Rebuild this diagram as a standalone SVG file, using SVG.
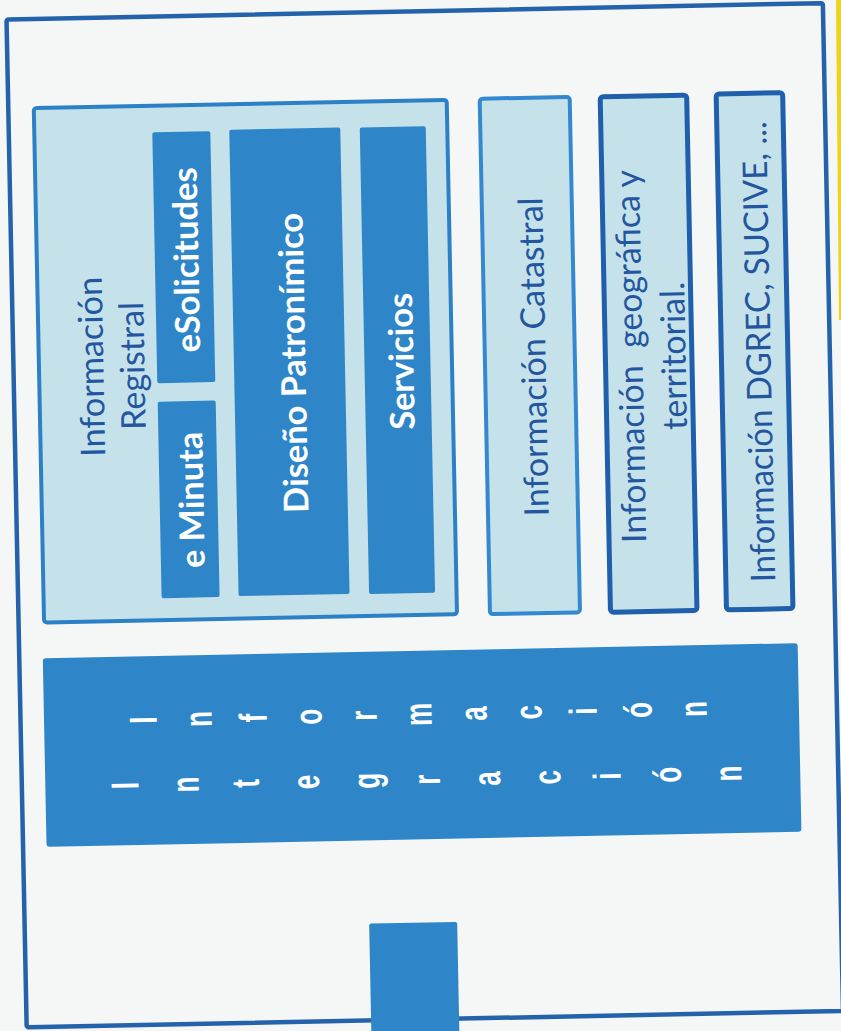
<svg xmlns="http://www.w3.org/2000/svg" width="841" height="1031" viewBox="0 0 841 1031">
<style>
.lbl{font-family:Lato,"Open Sans",sans-serif;font-size:34px;fill:#24569f;text-anchor:middle;dominant-baseline:central}
.wlbl{font-family:Lato,"Open Sans",sans-serif;font-size:34px;font-weight:700;fill:#ffffff;text-anchor:middle;dominant-baseline:central}
.ltr{font-family:"Liberation Sans",Arial,sans-serif;font-size:26px;font-weight:700;fill:#ffffff;text-anchor:middle}
.light{fill:#c5e2ea}
.dark{fill:#2e86c8}
</style>
<rect x="0" y="0" width="841" height="1031" fill="#f5f6f6"/>
<polygon points="836,0 841,0 841,320 839,320" fill="#efd21e"/>
<g transform="rotate(-1.146 420 515)">
  <rect id="frame" x="16.5" y="11.3" width="816.5" height="1008" rx="2" fill="none" stroke="#2463ac" stroke-width="4.5"/>

  <g id="registral">
    <rect x="42" y="100.5" width="413" height="514.5" rx="3" class="light" stroke="#2b80c6" stroke-width="4"/>
    <text class="lbl" transform="translate(93,360.4) rotate(-90)" textLength="180" lengthAdjust="spacingAndGlyphs">Información</text>
    <text class="lbl" transform="translate(134,360.2) rotate(-90)" textLength="128" lengthAdjust="spacingAndGlyphs">Registral</text>
  </g>
  <g id="esolicitudes">
    <rect x="160" y="127" width="58" height="251" rx="2" class="dark"/>
    <text class="wlbl" transform="translate(190,255.3) rotate(-90)" textLength="185" lengthAdjust="spacingAndGlyphs">eSolicitudes</text>
  </g>
  <g id="eminuta">
    <rect x="160" y="396.5" width="58" height="196.5" rx="2" class="dark"/>
    <text class="wlbl" transform="translate(190.3,495.4) rotate(-90)" textLength="136" lengthAdjust="spacingAndGlyphs">e Minuta</text>
  </g>
  <g id="diseno">
    <rect x="237" y="126" width="111" height="466.5" rx="2" class="dark"/>
    <text class="wlbl" transform="translate(295,360.4) rotate(-90)" textLength="300" lengthAdjust="spacingAndGlyphs">Diseño Patronímico</text>
  </g>
  <g id="servicios">
    <rect x="367.5" y="126.5" width="66" height="466.5" rx="2" class="dark"/>
    <text class="wlbl" transform="translate(403,361) rotate(-90)" textLength="137" lengthAdjust="spacingAndGlyphs">Servicios</text>
  </g>
  <g id="catastral">
    <rect x="488" y="100" width="90" height="515.5" rx="3" class="light" stroke="#3388cf" stroke-width="4"/>
    <text class="lbl" transform="translate(535.2,359.2) rotate(-90)" textLength="319" lengthAdjust="spacingAndGlyphs">Información Catastral</text>
  </g>
  <g id="geografica">
    <rect x="608.5" y="100.5" width="86.5" height="515.5" rx="3" class="light" stroke="#1f5fab" stroke-width="5"/>
    <text class="lbl" xml:space="preserve" transform="translate(632.2,360.7) rotate(-90)" textLength="373" lengthAdjust="spacingAndGlyphs">Información  geográfica y</text>
    <text class="lbl" transform="translate(675.2,361) rotate(-90)" textLength="148" lengthAdjust="spacingAndGlyphs">territorial.</text>
  </g>
  <g id="dgrec">
    <rect x="724.5" y="100" width="66.5" height="516" rx="3" class="light" stroke="#1f5fab" stroke-width="5"/>
    <text class="lbl" transform="translate(760.3,358.7) rotate(-90)" textLength="461" lengthAdjust="spacingAndGlyphs">Información DGREC, SUCIVE, ...</text>
  </g>
  <g id="integracion">
    <rect x="40" y="650.7" width="755" height="188.6" rx="3" class="dark"/>
    <g>
      <text class="ltr" transform="translate(152.6,714.5) rotate(-90) scale(1,1.5)">I</text>
      <text class="ltr" transform="translate(207.6,714.5) rotate(-90) scale(1,1.5)">n</text>
      <text class="ltr" transform="translate(262.6,714.5) rotate(-90) scale(1,1.5)">f</text>
      <text class="ltr" transform="translate(317.6,714.5) rotate(-90) scale(1,1.5)">o</text>
      <text class="ltr" transform="translate(372.6,714.5) rotate(-90) scale(1,1.5)">r</text>
      <text class="ltr" transform="translate(427.6,714.5) rotate(-90) scale(1,1.5)">m</text>
      <text class="ltr" transform="translate(482.6,714.5) rotate(-90) scale(1,1.5)">a</text>
      <text class="ltr" transform="translate(537.6,714.5) rotate(-90) scale(1,1.5)">c</text>
      <text class="ltr" transform="translate(592.6,714.5) rotate(-90) scale(1,1.5)">i</text>
      <text class="ltr" transform="translate(647.6,714.5) rotate(-90) scale(1,1.5)">ó</text>
      <text class="ltr" transform="translate(702.6,714.5) rotate(-90) scale(1,1.5)">n</text>
    </g>
    <g>
      <text class="ltr" transform="translate(133,779.8) rotate(-90) scale(1,1.5)">I</text>
      <text class="ltr" transform="translate(193.3,779.8) rotate(-90) scale(1,1.5)">n</text>
      <text class="ltr" transform="translate(253.6,779.8) rotate(-90) scale(1,1.5)">t</text>
      <text class="ltr" transform="translate(313.9,779.8) rotate(-90) scale(1,1.5)">e</text>
      <text class="ltr" transform="translate(374.2,779.8) rotate(-90) scale(1,1.5)">g</text>
      <text class="ltr" transform="translate(434.5,779.8) rotate(-90) scale(1,1.5)">r</text>
      <text class="ltr" transform="translate(494.8,779.8) rotate(-90) scale(1,1.5)">a</text>
      <text class="ltr" transform="translate(555.1,779.8) rotate(-90) scale(1,1.5)">c</text>
      <text class="ltr" transform="translate(615.4,779.8) rotate(-90) scale(1,1.5)">i</text>
      <text class="ltr" transform="translate(675.7,779.8) rotate(-90) scale(1,1.5)">ó</text>
      <text class="ltr" transform="translate(736,779.8) rotate(-90) scale(1,1.5)">n</text>
    </g>
  </g>
  <g id="small-bar">
    <rect x="361" y="922.5" width="88" height="130" rx="2" class="dark"/>
  </g>
  <g id="connectors"></g>
</g>
</svg>
